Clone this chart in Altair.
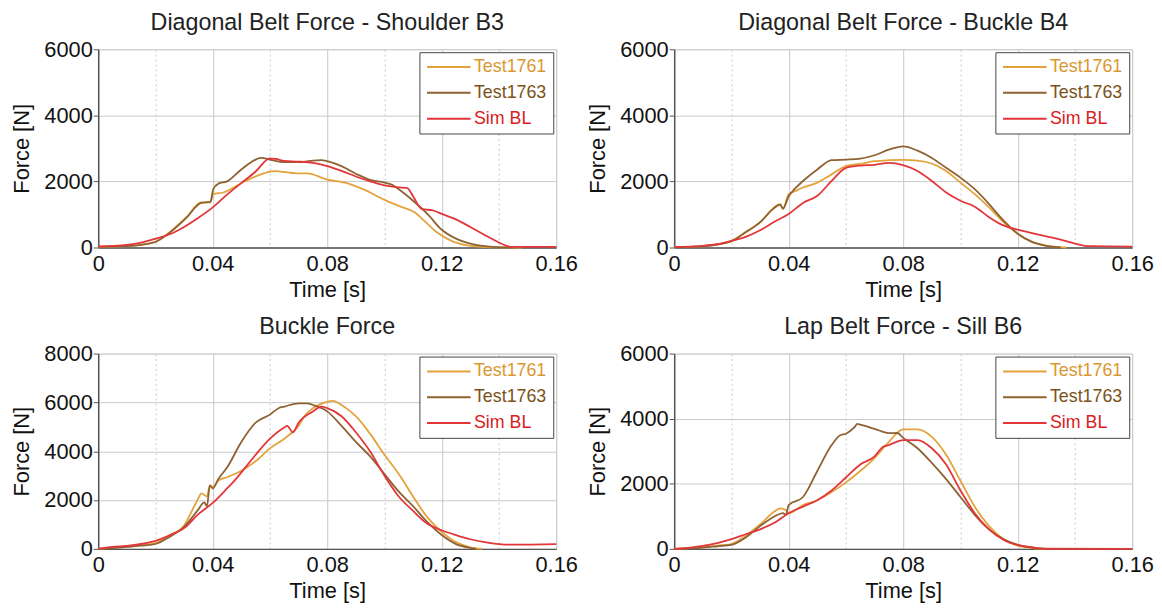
import altair as alt
import pandas as pd

SERIES = ["Test1761", "Test1763", "Sim BL"]
COLORS = ["#E3A33A", "#8E6232", "#E2363A"]
LABEL_COLORS = ["#D9982E", "#7A5220", "#D92020"]

TITLES = ["Diagonal Belt Force - Shoulder B3", "Diagonal Belt Force - Buckle B4",
          "Buckle Force", "Lap Belt Force - Sill B6"]
YMAX = [6000, 6000, 8000, 6000]
YTICKS = [[0, 2000, 4000, 6000], [0, 2000, 4000, 6000],
          [0, 2000, 4000, 6000, 8000], [0, 2000, 4000, 6000]]
XTICKS = [0, 0.02, 0.04, 0.06, 0.08, 0.10, 0.12, 0.14, 0.16]

# ---- Panel 1: Shoulder B3 ----
b3_1761_t = [0, 0.005, 0.01, 0.015, 0.0206, 0.0257, 0.0308, 0.036, 0.0392, 0.0402, 0.0437, 0.0514, 0.0617, 0.0694,
             0.073, 0.0797, 0.0874, 0.0925, 0.1002, 0.1054, 0.1105, 0.1144, 0.1182, 0.1234, 0.1285, 0.134, 0.14, 0.148]
b3_1761_f = [30, 30, 40, 80, 200, 520, 917, 1366, 1366, 1615, 1665, 2014, 2313, 2243,
             2243, 2064, 1934, 1765, 1436, 1246, 1067, 768, 469, 200, 70, 20, 5, 0]
b3_1763_t = [0, 0.005, 0.01, 0.015, 0.0206, 0.0257, 0.0308, 0.036, 0.0392, 0.0402, 0.042, 0.045, 0.05, 0.055, 0.057,
             0.06, 0.065, 0.07, 0.075, 0.078, 0.08, 0.085, 0.09, 0.095, 0.1, 0.103, 0.105, 0.11, 0.115,
             0.12, 0.125, 0.13, 0.135, 0.14, 0.145]
b3_1763_f = [30, 30, 40, 80, 190, 500, 900, 1350, 1380, 1765, 1934, 2000, 2363, 2662, 2712,
             2662, 2582, 2582, 2632, 2642, 2612, 2463, 2233, 2044, 1964, 1884, 1765, 1416, 1017,
             538, 269, 120, 40, 10, 0]
b3_sim_t = [0, 0.01, 0.015, 0.02, 0.025, 0.03, 0.035, 0.04, 0.045, 0.05, 0.055, 0.06, 0.062, 0.065, 0.07,
            0.075, 0.08, 0.085, 0.09, 0.095, 0.1, 0.105, 0.108, 0.11, 0.113, 0.117, 0.12, 0.125, 0.13,
            0.135, 0.14, 0.143, 0.145, 0.16]
b3_sim_f = [30, 80, 150, 269, 400, 620, 900, 1216, 1600, 1950, 2300, 2700, 2680, 2620, 2600,
            2560, 2463, 2320, 2150, 2000, 1880, 1820, 1800, 1550, 1166, 1120, 1017, 850, 620,
            380, 150, 40, 20, 20]

# ---- Panel 2: Buckle B4 ----
b4_1761_t = [0, 0.005, 0.01, 0.015, 0.02, 0.025, 0.03, 0.035, 0.037, 0.038, 0.04, 0.042, 0.045, 0.05, 0.055,
             0.06, 0.065, 0.07, 0.075, 0.08, 0.085, 0.09, 0.095, 0.1, 0.105, 0.11, 0.115, 0.12, 0.125,
             0.13, 0.135, 0.137]
b4_1761_f = [10, 20, 40, 90, 200, 470, 768, 1216, 1316, 1166, 1615, 1695, 1815, 1964, 2213,
             2463, 2532, 2612, 2642, 2652, 2632, 2542, 2313, 1964, 1615, 1216, 768, 419, 170,
             60, 10, 0]
b4_1763_t = [0, 0.005, 0.01, 0.015, 0.02, 0.025, 0.03, 0.035, 0.037, 0.038, 0.04, 0.042, 0.045, 0.05, 0.055,
             0.06, 0.065, 0.07, 0.075, 0.08, 0.085, 0.09, 0.095, 0.1, 0.105, 0.11, 0.115, 0.12, 0.125,
             0.13, 0.135]
b4_1763_f = [10, 20, 40, 90, 190, 460, 760, 1200, 1300, 1180, 1550, 1765, 2014, 2363, 2642,
             2662, 2692, 2792, 2961, 3061, 2931, 2712, 2413, 2114, 1765, 1316, 818, 419, 170,
             50, 0]
b4_sim_t = [0, 0.01, 0.015, 0.02, 0.025, 0.03, 0.035, 0.04, 0.045, 0.05, 0.055, 0.06, 0.065, 0.07, 0.075,
            0.08, 0.085, 0.09, 0.095, 0.1, 0.105, 0.11, 0.115, 0.12, 0.125, 0.13, 0.135, 0.14, 0.145, 0.16]
b4_sim_f = [10, 50, 100, 200, 320, 520, 780, 1017, 1350, 1565, 2014, 2413, 2480, 2500, 2560,
            2493, 2313, 2014, 1665, 1416, 1236, 917, 668, 538, 439, 339, 239, 120, 40, 30]

# ---- Panel 3: Buckle Force ----
bf_1761_t = [0, 0.005, 0.01, 0.015, 0.02, 0.025, 0.03, 0.033, 0.035, 0.036, 0.038, 0.039, 0.04, 0.042, 0.045,
             0.05, 0.055, 0.06, 0.065, 0.07, 0.072, 0.075, 0.08, 0.082, 0.085, 0.09, 0.095, 0.1, 0.105,
             0.11, 0.115, 0.12, 0.125, 0.13, 0.134]
bf_1761_f = [0, 50, 100, 150, 237, 566, 961, 1618, 2079, 2276, 2145, 2600, 2539, 2803, 2934,
             3197, 3592, 4118, 4513, 5039, 5434, 5763, 6026, 6066, 5895, 5434, 4711, 3855, 3066,
             2145, 1289, 697, 276, 66, 0]
bf_1763_t = [0, 0.005, 0.01, 0.015, 0.02, 0.025, 0.03, 0.035, 0.037, 0.038, 0.039, 0.04, 0.042, 0.045, 0.05,
             0.055, 0.06, 0.063, 0.065, 0.07, 0.073, 0.075, 0.08, 0.085, 0.09, 0.095, 0.1, 0.105, 0.11,
             0.115, 0.12, 0.125, 0.13, 0.132]
bf_1763_f = [0, 30, 80, 130, 200, 500, 900, 1618, 1908, 1750, 2605, 2474, 2868, 3329, 4382,
             5171, 5500, 5763, 5829, 5961, 5961, 5895, 5632, 5039, 4382, 3789, 3066, 2342, 1750,
             1092, 566, 197, 40, 0]
bf_sim_t = [0, 0.005, 0.01, 0.015, 0.02, 0.025, 0.03, 0.035, 0.04, 0.045, 0.048, 0.05, 0.055, 0.06, 0.065,
            0.066, 0.068, 0.07, 0.075, 0.078, 0.08, 0.085, 0.09, 0.095, 0.1, 0.105, 0.11, 0.115, 0.12,
            0.125, 0.13, 0.135, 0.14, 0.145, 0.16]
bf_sim_f = [0, 80, 120, 200, 330, 560, 850, 1421, 1882, 2474, 2850, 3132, 3855, 4513, 4974,
            5039, 4776, 5171, 5632, 5829, 5763, 5434, 4776, 3987, 3000, 2145, 1553, 1026, 763,
            566, 395, 276, 197, 171, 197]

# ---- Panel 4: Lap Belt Sill B6 ----
b6_1761_t = [0, 0.005, 0.01, 0.015, 0.02, 0.025, 0.03, 0.035, 0.037, 0.039, 0.04, 0.045, 0.05, 0.055, 0.06,
             0.065, 0.07, 0.075, 0.08, 0.085, 0.09, 0.095, 0.1, 0.105, 0.11, 0.115, 0.12, 0.125, 0.13]
b6_1761_f = [0, 20, 50, 100, 150, 400, 748, 1147, 1246, 1196, 1097, 1346, 1496, 1745, 2044,
             2393, 2792, 3290, 3669, 3669, 3440, 2891, 2094, 1296, 698, 299, 100, 20, 0]
b6_1763_t = [0, 0.005, 0.01, 0.015, 0.02, 0.025, 0.03, 0.035, 0.038, 0.039, 0.04, 0.045, 0.05, 0.055, 0.058,
             0.06, 0.063, 0.064, 0.065, 0.07, 0.075, 0.078, 0.08, 0.085, 0.09, 0.095, 0.1, 0.105, 0.11,
             0.115, 0.12, 0.125, 0.13, 0.16]
b6_1763_f = [0, 15, 40, 80, 120, 350, 700, 997, 1097, 1050, 1346, 1595, 2393, 3190, 3490,
             3539, 3739, 3839, 3820, 3689, 3559, 3560, 3410, 3091, 2642, 2144, 1595, 1047, 598,
             299, 120, 40, 5, 0]
b6_sim_t = [0, 0.005, 0.01, 0.015, 0.02, 0.025, 0.03, 0.035, 0.04, 0.045, 0.05, 0.055, 0.06, 0.065, 0.07,
            0.073, 0.075, 0.08, 0.085, 0.09, 0.095, 0.1, 0.105, 0.11, 0.115, 0.12, 0.125, 0.13, 0.16]
b6_sim_f = [0, 30, 90, 180, 300, 450, 600, 800, 1097, 1300, 1496, 1795, 2193, 2592, 2841,
            3140, 3190, 3340, 3340, 3091, 2592, 1795, 1097, 598, 279, 120, 50, 0, 0]

PANELS = [
    [(b3_1761_t, b3_1761_f), (b3_1763_t, b3_1763_f), (b3_sim_t, b3_sim_f)],
    [(b4_1761_t, b4_1761_f), (b4_1763_t, b4_1763_f), (b4_sim_t, b4_sim_f)],
    [(bf_1761_t, bf_1761_f), (bf_1763_t, bf_1763_f), (bf_sim_t, bf_sim_f)],
    [(b6_1761_t, b6_1761_f), (b6_1763_t, b6_1763_f), (b6_sim_t, b6_sim_f)],
]

FONT = "Liberation Sans"
label_expr = ("datum.label == 'Test1761' ? '%s' : (datum.label == 'Test1763' ? '%s' : '%s')"
              % tuple(LABEL_COLORS))


def panel(i, height):
    rows = []
    for name, (ts, fs) in zip(SERIES, PANELS[i]):
        for k, (t, f) in enumerate(zip(ts, fs)):
            rows.append({"series": name, "t": t, "f": f, "order": k})
    df = pd.DataFrame(rows)
    return alt.Chart(df, title=alt.TitleParams(TITLES[i], fontSize=23.5, font=FONT, fontWeight="normal",
                                                color="#222222", offset=0, dy=-4)).mark_line(
        strokeWidth=1.8, interpolate="monotone").encode(
        x=alt.X("t:Q", scale=alt.Scale(domain=[0, 0.16], nice=False),
                axis=alt.Axis(title="Time [s]", values=XTICKS,
                              labelExpr="(round(datum.value*100) % 4 == 0) ? format(datum.value, '~g') : ''",
                              labelFontSize=22, titleFontSize=22, labelFont=FONT, titleFont=FONT,
                              titleFontWeight="normal", labelColor="#111111", titleColor="#111111",
                              ticks=False, labelPadding=6, titlePadding=5,
                              domainColor="#555555", domainWidth=1.5,
                              gridColor="#c8c8c8",
                              gridDash={"condition": {"test": "round(datum.value*100) % 4 != 0",
                                                      "value": [2, 3]}, "value": []},
                              labelFlush=False)),
        y=alt.Y("f:Q", scale=alt.Scale(domain=[0, YMAX[i]], nice=False),
                axis=alt.Axis(title="Force [N]", values=YTICKS[i], format="d", labelFontSize=22,
                              titleFontSize=22,
                              labelFont=FONT, titleFont=FONT, titleFontWeight="normal",
                              labelColor="#111111", titleColor="#111111", tickSize=5,
                              tickColor="#555555", labelPadding=1, titlePadding=10,
                              domainColor="#555555", domainWidth=1.5, gridColor="#c8c8c8")),
        color=alt.Color("series:N", scale=alt.Scale(domain=SERIES, range=COLORS),
                        legend=alt.Legend(title=None, orient="top-right", offset=3, fillColor="white",
                                          strokeColor="#444444", padding=6, symbolType="M-1,0L5,0",
                                          symbolSize=215, symbolStrokeWidth=2, labelFontSize=18,
                                          labelFont=FONT, rowPadding=8, labelOffset=31,
                                          labelColor={"expr": label_expr})),
        order="order:Q",
    ).properties(width=462, height=height)


top = alt.hconcat(panel(0, 200), panel(1, 200), spacing=8).resolve_scale(color="independent")
bottom = alt.hconcat(panel(2, 197), panel(3, 197), spacing=8).resolve_scale(color="independent")
chart = alt.vconcat(top, bottom, spacing=14).resolve_scale(color="independent").configure_view(
    stroke="#555555", strokeWidth=1.5).configure(
    background="white", padding={"left": 2, "top": 0, "right": 0, "bottom": 0})

chart.save("out.html", embed_options={"renderer": "svg", "actions": False})
